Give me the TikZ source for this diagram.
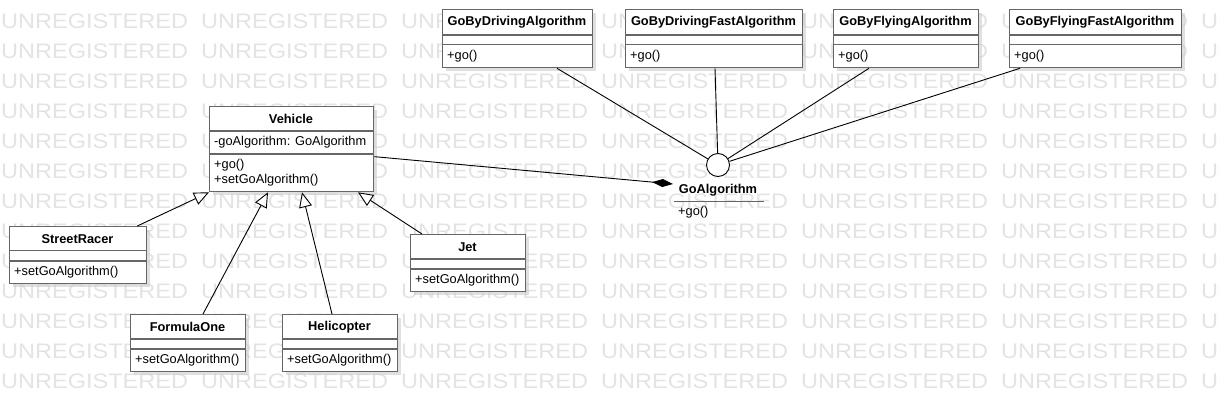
\documentclass[tikz,border=0pt]{standalone}
\usepackage{fontspec}
\setmainfont{Liberation Sans}
\newfontfamily\wmfont[FakeStretch=1.12]{Liberation Sans}
\usetikzlibrary{arrows.meta,shadows,calc}

\begin{document}
\begin{tikzpicture}
[x=1pt,y=-1pt,
classbox/.style={draw=black!60, line width=1.3pt, fill=white, anchor=north west, inner sep=0pt,
  drop shadow={shadow xshift=3pt, shadow yshift=-3pt, fill=black!20, opacity=0.6}},
classname/.style={font=\fontsize{12.8}{15}\selectfont\bfseries, inner sep=0pt},
member/.style={font=\fontsize{12.8}{15}\selectfont, anchor=west, inner sep=0pt, align=left},
sepline/.style={draw=black!60, line width=1.3pt},
inherit/.style={line width=0.9pt, -{Triangle[length=15pt, width=13pt, fill=white]}},
compose/.style={line width=0.9pt, -{Diamond[length=21pt, width=8pt]}},
realize/.style={line width=0.9pt},
watermark/.style={text=black!11, font=\fontsize{21}{25}\wmfont, anchor=west, inner sep=0pt}]
  \useasboundingbox (0,0) rectangle (1220,411);
  % background text
  \begin{scope}
    \clip (0,0) rectangle (1220,411);
    \foreach \r in {0,...,12}
      \foreach \c in {0,...,6}
        \node[watermark] at (1+200*\c, 21+30*\r) {UNREGISTERED};
  \end{scope}
  % Vehicle
  \node[classbox, minimum width=164pt, minimum height=85pt] (vehicle) at (209,106) {};
  \node[classname] (vehiclename) at (291,118.5) {Vehicle};
  \draw[sepline] (209,131) -- (373,131);
  \draw[sepline] (209,154) -- (373,154);
  \node[member] (vehicleattr) at (214,142.5) {-goAlgorithm: GoAlgorithm};
  \node[member] (vehicleops) at (214,172.5) {+go()\\+setGoAlgorithm()};
  % algorithms
  \node[classbox, minimum width=150pt, minimum height=58pt] (drive) at (442,9) {};
  \node[classname] (drivename) at (517,22.5) {GoByDrivingAlgorithm};
  \draw[sepline] (442,35) -- (592,35);
  \draw[sepline] (442,44.5) -- (592,44.5);
  \node[member] (driveops) at (447,56) {+go()};
  \node[classbox, minimum width=177pt, minimum height=58pt] (drivefast) at (625,9) {};
  \node[classname] (drivefastname) at (713.5,22.5) {GoByDrivingFastAlgorithm};
  \draw[sepline] (625,35) -- (802,35);
  \draw[sepline] (625,44.5) -- (802,44.5);
  \node[member] (drivefastops) at (630,56) {+go()};
  \node[classbox, minimum width=145pt, minimum height=58pt] (fly) at (833,9) {};
  \node[classname] (flyname) at (905.5,22.5) {GoByFlyingAlgorithm};
  \draw[sepline] (833,35) -- (978,35);
  \draw[sepline] (833,44.5) -- (978,44.5);
  \node[member] (flyops) at (838,56) {+go()};
  \node[classbox, minimum width=172pt, minimum height=58pt] (flyfast) at (1009,9) {};
  \node[classname] (flyfastname) at (1095,22.5) {GoByFlyingFastAlgorithm};
  \draw[sepline] (1009,35) -- (1181,35);
  \draw[sepline] (1009,44.5) -- (1181,44.5);
  \node[member] (flyfastops) at (1014,56) {+go()};
  % vehicles
  \node[classbox, minimum width=137pt, minimum height=57pt] (streetracer) at (9,226) {};
  \node[classname] (streetracername) at (77.5,239) {StreetRacer};
  \draw[sepline] (9,250.5) -- (146,250.5);
  \draw[sepline] (9,261) -- (146,261);
  \node[member] (streetracerops) at (14,272) {+setGoAlgorithm()};
  \node[classbox, minimum width=115pt, minimum height=57pt] (formulaone) at (130,314) {};
  \node[classname] (formulaonename) at (187.5,327) {FormulaOne};
  \draw[sepline] (130,339) -- (245,339);
  \draw[sepline] (130,349) -- (245,349);
  \node[member] (formulaoneops) at (135,360) {+setGoAlgorithm()};
  \node[classbox, minimum width=115pt, minimum height=57pt] (helicopter) at (282,314) {};
  \node[classname] (helicoptername) at (339.5,327) {Helicopter};
  \draw[sepline] (282,339) -- (397,339);
  \draw[sepline] (282,349) -- (397,349);
  \node[member] (helicopterops) at (287,360) {+setGoAlgorithm()};
  \node[classbox, minimum width=115pt, minimum height=57pt] (jet) at (410,234) {};
  \node[classname] (jetname) at (467.5,247) {Jet};
  \draw[sepline] (410,259) -- (525,259);
  \draw[sepline] (410,269) -- (525,269);
  \node[member] (jetops) at (415,280) {+setGoAlgorithm()};
  % interface
  \node[circle, draw, fill=white, minimum size=23pt, inner sep=0pt, line width=0.9pt] (goalgorithm) at (718,165) {};
  \node[classname] (goalgorithmname) at (718,190) {GoAlgorithm};
  \draw[sepline] (674,201.5) -- (764,201.5);
  \node[member] (goalgorithmops) at (678,212) {+go()};
  \coordinate (composeend) at (673,184);
  % connectors
  \draw[inherit] ($(streetracer.north east)+(-10,0)$) -- (vehicle.south west);
  \draw[inherit] ($(formulaone.north west)+(73,0)$) -- ($(vehicle.south west)+(59,0)$);
  \draw[inherit] ($(helicopter.north west)+(50,0)$) -- ($(vehicle.south west)+(93,0)$);
  \draw[inherit] ($(jet.north west)+(12,0)$) -- ($(vehicle.south west)+(149,0)$);
  \draw[compose] ($(vehicle.east)+(0,7.5)$) -- (composeend);
  \draw[realize] ($(drive.south west)+(115,0)$) -- (goalgorithm);
  \draw[realize] ($(drivefast.south west)+(90,0)$) -- (goalgorithm);
  \draw[realize] ($(fly.south west)+(36,0)$) -- (goalgorithm);
  \draw[realize] ($(flyfast.south west)+(11,0)$) -- (goalgorithm);
\end{tikzpicture}
\end{document}
